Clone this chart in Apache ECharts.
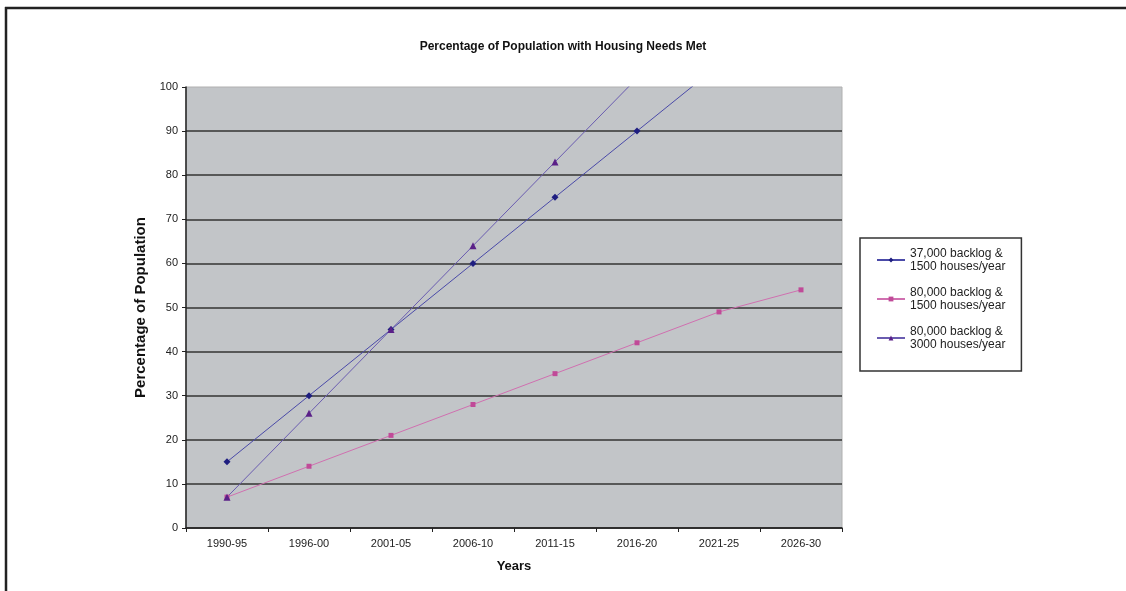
<!DOCTYPE html>
<html>
<head>
<meta charset="utf-8">
<script src="https://cdn.jsdelivr.net/npm/echarts@6/dist/echarts.min.js"></script>
<style>html,body{margin:0;padding:0;background:#fff}#c{width:1126px;height:591px}</style>
</head>
<body>
<div id="c"></div>
<script>
const categories = ['1990-95','1996-00','2001-05','2006-10','2011-15','2016-20','2021-25','2026-30'];
const seriesNames = ['37,000 backlog &\n1500 houses/year','80,000 backlog &\n1500 houses/year','80,000 backlog &\n3000 houses/year'];
const backlog37k_1500 = [15, 30, 45, 60, 75, 90, 105];
const backlog80k_1500 = [7, 14, 21, 28, 35, 42, 49, 54];
const backlog80k_3000 = [7, 26, 45, 64, 83, 102];
const yTicks = {min: 0, max: 100, interval: 10};

const chart = echarts.init(document.getElementById('c'), null, {renderer: 'canvas'});
const font = 'Liberation Sans, Arial, sans-serif';
chart.setOption({
  animation: false,
  backgroundColor: '#fff',
  title: {
    text: 'Percentage of Population with Housing Needs Met',
    left: 'center', top: 36,
    textStyle: {fontFamily: font, fontSize: 12, fontWeight: 'bold', color: '#111'}
  },
  graphic: [
    {type: 'line', shape: {x1: 5, y1: 8, x2: 1126, y2: 8}, style: {stroke: '#222', lineWidth: 2.5}, silent: true},
    {type: 'line', shape: {x1: 6, y1: 7, x2: 6, y2: 591}, style: {stroke: '#222', lineWidth: 2.5}, silent: true}
  ],
  legend: {
    orient: 'vertical',
    left: 860, top: 238,
    padding: [9, 16, 20, 16],
    itemGap: 13,
    itemWidth: 28, itemHeight: 6,
    borderColor: '#333', borderWidth: 1.5,
    backgroundColor: '#fff',
    textStyle: {fontFamily: font, fontSize: 12, color: '#222', lineHeight: 13},
    data: seriesNames
  },
  grid: {
    left: 186, right: 284, top: 87, bottom: 63,
    show: true, backgroundColor: '#c2c5c8', borderColor: '#b0b0b0', borderWidth: 1
  },
  xAxis: {
    type: 'category',
    data: categories,
    boundaryGap: true,
    name: 'Years', nameLocation: 'middle', nameGap: 32,
    nameTextStyle: {fontFamily: font, fontSize: 13, fontWeight: 'bold', color: '#111'},
    axisLine: {lineStyle: {color: '#222', width: 1.5}},
    axisTick: {show: true, alignWithLabel: false, length: 4, lineStyle: {color: '#222'}},
    axisLabel: {fontFamily: font, fontSize: 11, color: '#222', margin: 10}
  },
  yAxis: {
    type: 'value',
    min: yTicks.min, max: yTicks.max, interval: yTicks.interval,
    name: 'Percentage of Population', nameLocation: 'middle', nameGap: 37,
    nameTextStyle: {fontFamily: font, fontSize: 15, fontWeight: 'bold', color: '#111'},
    axisLine: {show: true, lineStyle: {color: '#222', width: 1.5}},
    axisTick: {show: true, length: 4, lineStyle: {color: '#222'}},
    axisLabel: {fontFamily: font, fontSize: 11, color: '#222', margin: 8},
    splitLine: {show: true, showMaxLine: false, lineStyle: {color: '#333', width: 1.5}}
  },
  series: [
    {name: seriesNames[0], type: 'line', data: backlog37k_1500, symbol: 'diamond', symbolSize: 7,
     clip: true,
     lineStyle: {color: '#4a4aa8', width: 1}, itemStyle: {color: '#1e1e80'}},
    {name: seriesNames[1], type: 'line', data: backlog80k_1500, symbol: 'rect', symbolSize: 5,
     clip: true,
     lineStyle: {color: '#d070b0', width: 1}, itemStyle: {color: '#c04a98'}},
    {name: seriesNames[2], type: 'line', data: backlog80k_3000, symbol: 'triangle', symbolSize: 7,
     clip: true,
     lineStyle: {color: '#6a5cb0', width: 1}, itemStyle: {color: '#5a2088'}}
  ]
});
</script>
</body>
</html>
